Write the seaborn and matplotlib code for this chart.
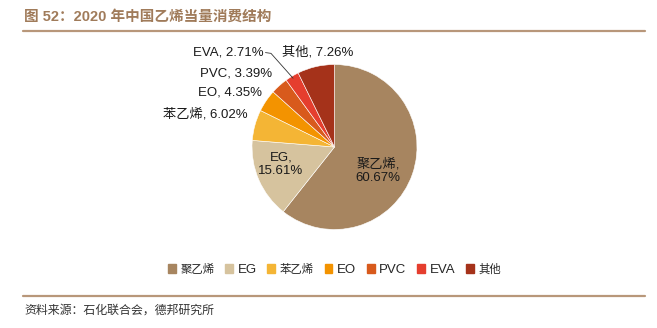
import numpy as np
import matplotlib
matplotlib.use("Agg")
import matplotlib.pyplot as plt
from matplotlib.lines import Line2D
import seaborn as sns

# Ethylene-equivalent consumption structure, 2020 (%)
categories = ["聚乙烯", "EG", "苯乙烯", "EO", "PVC", "EVA", "其他"]
shares = [60.67, 15.61, 6.02, 4.35, 3.39, 2.71, 7.26]
slice_colors = ["#A78560", "#D6C39E", "#F4B535", "#F39300", "#D85A1C", "#E53E2E", "#A5321A"]

title_text = "图 52：2020 年中国乙烯当量消费结构"
source_text = "资料来源：石化联合会，德邦研究所"

sns.set_theme(style="white")
plt.rcParams["font.family"] = ["Liberation Sans", "Noto Sans CJK SC", "DejaVu Sans"]

W, H = 657, 328
fig = plt.figure(figsize=(W / 100, H / 100), dpi=100)
fig.patch.set_facecolor("white")

# square axes holding the pie
cx, cy, r = 334.5, 147.0, 82.5
ax = fig.add_axes([(cx - r) / W, (H - cy - r) / H, 2 * r / W, 2 * r / H])
palette = sns.color_palette(slice_colors)
wedges, _ = ax.pie(
    shares,
    colors=palette,
    startangle=90,
    counterclock=False,
    radius=1.0,
    wedgeprops=dict(edgecolor="white", linewidth=0.4),
)
ax.set_xlim(-1, 1)
ax.set_ylim(-1, 1)
ax.set_aspect("equal")
ax.axis("off")

lbl = dict(fontsize=9.5, color="#1a1a1a")

def label_text(i):
    return f"{categories[i]}, {shares[i]:.2f}%"

# labels inside the two large slices
ax.text(-0.65, -0.21, f"{categories[1]},\n{shares[1]:.2f}%", ha="center", va="center",
        linespacing=1.2, **lbl)
ax.text(0.53, -0.29, f"{categories[0]},\n{shares[0]:.2f}%", ha="center", va="center",
        linespacing=1.2, **lbl)

# outside labels for the small slices
ax.text(-1.05, 0.40, label_text(2), ha="right", va="center", **lbl)
ax.text(-0.88, 0.655, label_text(3), ha="right", va="center", **lbl)
ax.text(-0.76, 0.885, label_text(4), ha="right", va="center", **lbl)
ax.text(-0.20, 1.15, label_text(6), ha="center", va="center", **lbl)

# EVA label with a leader line to the middle of its slice
ax.text(-0.855, 1.15, label_text(5), ha="right", va="center", **lbl)
cum = np.cumsum([0] + shares)
mid = (cum[5] + cum[6]) / 2 / cum[-1] * 360.0
theta = np.deg2rad(90 - mid)
tip = (0.97 * np.cos(theta), 0.97 * np.sin(theta))
ax.plot([-0.84, -0.77, tip[0]], [1.145, 1.135, tip[1]], color="#333333", lw=0.6,
        clip_on=False, solid_capstyle="butt")

# legend below the pie
handles = [plt.Rectangle((0, 0), 1, 1, color=c) for c in palette]
leg = fig.legend(handles, categories, loc="center", bbox_to_anchor=(cx / W, (H - 270) / H),
                 ncol=7, frameon=False, fontsize=9.5, handlelength=0.6, handleheight=0.6,
                 handletextpad=0.35, columnspacing=0.8)
for t in leg.get_texts():
    if not t.get_text().isascii():
        t.set_fontsize(8.2)

# header and footer
rule_color = "#B8977A"
fig.text(24 / W, (H - 17) / H, title_text, ha="left", va="center", fontsize=10.5,
         fontweight="bold", color="#A07B5A")
fig.add_artist(Line2D([23 / W, 645 / W], [(H - 30.5) / H] * 2, color=rule_color, lw=1.6))
fig.add_artist(Line2D([23 / W, 645 / W], [(H - 296) / H] * 2, color=rule_color, lw=1.6))
fig.text(24 / W, (H - 311) / H, source_text, ha="left", va="center", fontsize=8.6,
         color="#333333")

fig.savefig("out.png", dpi=100, facecolor="white")
